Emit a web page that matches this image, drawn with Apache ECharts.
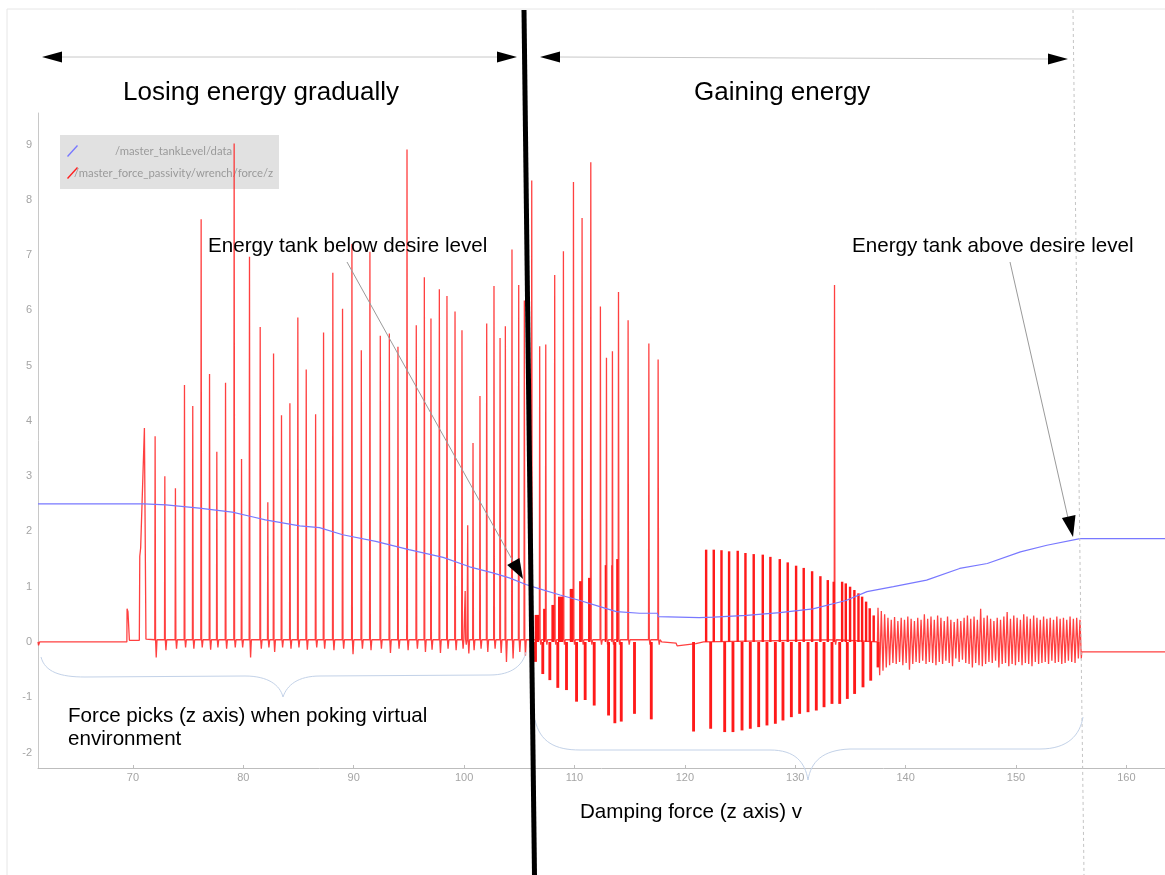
<!DOCTYPE html>
<html>
<head>
<meta charset="utf-8">
<script src="https://cdn.jsdelivr.net/npm/echarts@6/dist/echarts.min.js"></script>
<style>
  html, body { margin: 0; padding: 0; background: #fff; }
  #chart { width: 1165px; height: 875px; }
</style>
</head>
<body>
<div id="chart"></div>
<script>
// series names (legend)
const tankName = '/master_tankLevel/data';
const forceName = '/master_force_passivity/wrench/force/z';

// tank level (blue)
const tankT = [61.4, 71.0, 73.0, 76.0, 79.0, 80.7, 82.0, 85.1, 86.9, 89.0, 92.0, 95.0, 98.1, 100.5, 102.6,
  104.1, 105.6, 106.85, 108.7, 110.5, 112.3, 113.8, 115.9, 117.5, 117.6, 121.3, 122.6, 125.6, 128.6, 131.6,
  134.6, 136.5, 138.9, 141.9, 144.9, 147.4, 150.4, 152.8, 155.8, 157.6, 163.5];
const tankLevel = [2.50, 2.50, 2.48, 2.42, 2.35, 2.27, 2.21, 2.10, 2.07, 1.94, 1.82, 1.67, 1.53, 1.36, 1.25,
  1.16, 1.04, 0.96, 0.85, 0.75, 0.64, 0.55, 0.52, 0.52, 0.46, 0.44, 0.45, 0.48, 0.53, 0.60,
  0.75, 0.91, 1.00, 1.12, 1.33, 1.42, 1.63, 1.75, 1.87, 1.87, 1.87];

// force: start of the record (flat, first small contact, first ramp)
const leadT = [61.40, 61.45, 61.55, 67.80, 67.90, 68.00, 69.45, 69.47, 69.55, 69.62, 69.68, 70.58, 70.62, 70.70, 71.04, 71.18];
const leadZ = [0.00, -0.06, 0.00, 0.00, 0.03, 0.00, 0.00, 0.60, 0.55, 0.57, 0.03, 0.03, 1.55, 1.70, 3.87, 0.05];

// force: single pokes (time, peak, dip right after)
const pokeX = [72.01, 72.89, 73.85, 74.67, 75.42, 76.18, 76.94, 77.60, 78.39, 79.17,
  79.84, 80.56, 81.53, 82.22, 82.74, 83.46, 84.22, 84.94, 85.70, 86.55,
  87.27, 88.11, 88.99, 89.84, 90.69, 91.47, 92.41, 93.23, 94.01, 94.83,
  95.67, 96.40, 97.00, 97.76, 98.45, 99.18, 99.81, 100.10, 100.33, 100.81,
  101.44, 102.05, 102.71, 103.26, 103.74, 104.34, 104.95, 105.46,
  106.13, 106.85, 107.40, 108.21, 109.00, 109.91, 110.69, 111.48, 112.35, 112.90,
  113.44, 113.99, 114.86, 116.74, 117.58, 133.56];
const pokePeak = [3.72, 3.00, 2.78, 4.65, 4.27, 7.65, 4.85, 3.44, 4.69, 9.02,
  3.31, 6.97, 5.70, 2.53, 5.22, 4.10, 4.32, 5.87, 4.93, 4.12,
  5.60, 6.68, 6.03, 7.20, 5.28, 7.06, 5.54, 5.58, 5.34, 8.91,
  5.73, 6.60, 5.85, 6.38, 6.26, 5.98, 5.64, 0.92, 2.11, 3.60,
  4.45, 5.76, 6.44, 5.50, 5.71, 7.10, 6.46, 6.18,
  8.35, 5.35, 5.38, 6.64, 7.07, 8.32, 7.67, 8.68, 6.07, 5.14,
  5.26, 6.33, 5.82, 5.40, 5.11, 6.46];
const pokeDip = [-0.28, -0.15, -0.12, -0.10, -0.12, -0.10, -0.14, -0.10, -0.12, -0.10,
  -0.10, -0.28, -0.12, -0.10, -0.18, -0.10, -0.12, -0.10, -0.14, -0.10,
  -0.12, -0.15, -0.12, -0.22, -0.12, -0.15, -0.12, -0.20, -0.12, -0.15,
  -0.12, -0.18, -0.14, -0.20, -0.12, -0.15, -0.12, -0.05, -0.21, -0.15,
  -0.12, -0.18, -0.12, -0.20, -0.36, -0.30, -0.18, -0.25,
  -0.05, -0.05, -0.05, -0.05, -0.05, -0.05, -0.05, -0.05, -0.05, -0.05,
  -0.05, -0.05, -0.05, -0.05, -0.05, -0.05];

// force: flat stretches between the dense parts
const baseT = [117.90, 119.20, 119.30, 121.00, 121.70, 137.45];
const baseZ = [0.00, -0.02, -0.07, -0.03, 0.00, 0.00];

// force: dense damping blocks after 106 s (start, end, top)
const blockStart = [106.40, 107.16, 107.91, 108.51, 109.57, 110.42, 111.23, 112.74, 113.34, 113.78];
const blockEnd = [106.79, 107.38, 108.19, 108.98, 109.89, 110.67, 111.46, 112.88, 113.42, 113.97];
const blockTop = [0.49, 0.60, 0.67, 0.82, 0.96, 1.10, 1.16, 1.39, 1.39, 1.50];

// force: negative damping bars
const dipX = [106.34, 107.00, 107.64, 108.36, 109.15, 110.06, 110.84, 111.66, 112.96, 113.53,
  114.11, 115.31, 116.83, 120.66, 122.21, 123.48, 124.23, 125.05, 125.80, 126.56,
  127.31, 128.07, 128.76, 129.52, 130.27, 131.03, 131.78, 132.48, 133.20, 133.90,
  134.59, 135.25, 136.01, 136.71, 137.37];
const dipLow = [-0.36, -0.58, -0.69, -0.83, -0.87, -1.08, -1.05, -1.15, -1.33, -1.47,
  -1.44, -1.30, -1.40, -1.62, -1.57, -1.63, -1.63, -1.60, -1.57, -1.54,
  -1.51, -1.48, -1.42, -1.36, -1.30, -1.27, -1.24, -1.18, -1.12, -1.12,
  -1.03, -0.94, -0.82, -0.70, -0.46];

// force: positive damping bars 121-137 s
const barX = [121.82, 122.51, 123.21, 123.90, 124.68, 125.38, 126.13, 126.95, 127.64, 128.49,
  129.21, 129.97, 130.66, 131.42, 132.17, 132.84, 133.38, 134.14, 134.47, 134.86,
  135.25, 135.62, 135.95, 136.31, 136.64, 137.00];
const barTop = [1.67, 1.67, 1.66, 1.64, 1.65, 1.61, 1.59, 1.58, 1.54, 1.50,
  1.44, 1.38, 1.34, 1.28, 1.19, 1.12, 1.09, 1.09, 1.06, 1.00,
  0.94, 0.88, 0.82, 0.73, 0.61, 0.48];

// force: oscillation 137-156 s, then constant
const oscillation = [
  [137.50, 0.62], [137.65, -0.60], [137.80, 0.56], [137.95, -0.52], [138.10, 0.50], [138.25, -0.46],
  [138.40, 0.44], [138.55, -0.42], [138.70, 0.40], [138.85, -0.38], [139.00, 0.45], [139.15, -0.40],
  [139.30, 0.38], [139.45, -0.36], [139.60, 0.44], [139.75, -0.42], [139.90, 0.40], [140.05, -0.38],
  [140.20, 0.46], [140.35, -0.50], [140.50, 0.42], [140.65, -0.40], [140.80, 0.38], [140.95, -0.36],
  [141.10, 0.44], [141.25, -0.38], [141.40, 0.40], [141.55, -0.34], [141.70, 0.50], [141.85, -0.40],
  [142.00, 0.42], [142.15, -0.36], [142.30, 0.46], [142.45, -0.38], [142.60, 0.40], [142.75, -0.42],
  [142.90, 0.48], [143.05, -0.36], [143.20, 0.44], [143.35, -0.40], [143.50, 0.38], [143.65, -0.34],
  [143.80, 0.46], [143.95, -0.38], [144.10, 0.40], [144.25, -0.44], [144.40, 0.36], [144.55, -0.30],
  [144.70, 0.42], [144.85, -0.36], [145.00, 0.38], [145.15, -0.32], [145.30, 0.44], [145.45, -0.38],
  [145.60, 0.48], [145.75, -0.40], [145.90, 0.42], [146.05, -0.46], [146.20, 0.46], [146.35, -0.38],
  [146.50, 0.40], [146.65, -0.42], [146.80, 0.60], [146.95, -0.44], [147.10, 0.44], [147.25, -0.40],
  [147.40, 0.48], [147.55, -0.36], [147.70, 0.42], [147.85, -0.38], [148.00, 0.38], [148.15, -0.34],
  [148.30, 0.44], [148.45, -0.46], [148.60, 0.40], [148.75, -0.40], [148.90, 0.46], [149.05, -0.38],
  [149.20, 0.54], [149.35, -0.44], [149.50, 0.42], [149.65, -0.40], [149.80, 0.48], [149.95, -0.42],
  [150.10, 0.44], [150.25, -0.36], [150.40, 0.40], [150.55, -0.42], [150.70, 0.50], [150.85, -0.38],
  [151.00, 0.46], [151.15, -0.40], [151.30, 0.42], [151.45, -0.44], [151.60, 0.48], [151.75, -0.36],
  [151.90, 0.44], [152.05, -0.40], [152.20, 0.40], [152.35, -0.38], [152.50, 0.46], [152.65, -0.36],
  [152.80, 0.42], [152.95, -0.40], [153.10, 0.44], [153.25, -0.34], [153.40, 0.40], [153.55, -0.38],
  [153.70, 0.46], [153.85, -0.36], [154.00, 0.42], [154.15, -0.40], [154.30, 0.44], [154.45, -0.38],
  [154.60, 0.40], [154.75, -0.34], [154.90, 0.46], [155.05, -0.36], [155.20, 0.42], [155.35, -0.38],
  [155.50, 0.44], [155.65, -0.30], [155.80, 0.40], [155.92, -0.30], [155.95, -0.18], [163.50, -0.18]
];

// build the force line from the read values
var forceLine = [];
leadT.forEach(function (t, i) { forceLine.push([t, leadZ[i]]); });
pokeX.forEach(function (t, i) {
  forceLine.push([t - 0.03, 0.04], [t, pokePeak[i]], [t + 0.04, 0.05], [t + 0.1, pokeDip[i]], [t + 0.17, 0.04]);
});
baseT.forEach(function (t, i) { forceLine.push([t, baseZ[i]]); });
oscillation.forEach(function (p) { forceLine.push(p); });
forceLine.sort(function (a, b) { return a[0] - b[0]; });

// rectangles for the dense parts: [start, end, value]
var DIP_W = 0.26;
var BAR_W = 0.22;
var forceBlocks = [];
blockStart.forEach(function (t, i) { forceBlocks.push([t, blockEnd[i], blockTop[i]]); });
dipX.forEach(function (t, i) { forceBlocks.push([t, t + DIP_W, dipLow[i]]); });
barX.forEach(function (t, i) { forceBlocks.push([t, t + BAR_W, barTop[i]]); });

var tankLine = tankT.map(function (t, i) { return [t, tankLevel[i]]; });

function renderBlock(params, api) {
  var a = api.coord([api.value(0), 0]);
  var b = api.coord([api.value(1), api.value(2)]);
  return {
    type: 'rect',
    shape: {
      x: a[0],
      y: Math.min(a[1], b[1]),
      width: Math.max(b[0] - a[0], 1.2),
      height: Math.abs(b[1] - a[1])
    },
    style: { fill: '#ff1a1a' }
  };
}

// curly brace made of bezier pieces and straight runs
function brace(pieces) {
  return pieces.map(function (p) {
    if (p.length === 4) {
      return { type: 'line', z: 50, shape: { x1: p[0], y1: p[1], x2: p[2], y2: p[3] }, style: { stroke: '#c3d2e8', lineWidth: 1 } };
    }
    return {
      type: 'bezierCurve', z: 50,
      shape: { x1: p[0], y1: p[1], cpx1: p[2], cpy1: p[3], cpx2: p[4], cpy2: p[5], x2: p[6], y2: p[7] },
      style: { stroke: '#c3d2e8', lineWidth: 1, fill: null }
    };
  });
}

var textFont = '"Liberation Sans", Arial, sans-serif';
var red = '#ff1f1f';
var blue = '#7878ff';

var myChart = echarts.init(document.getElementById('chart'));

var elements = [
  // slide frame
  { type: 'line', z: 50, shape: { x1: 7, y1: 9, x2: 1165, y2: 9 }, style: { stroke: '#e6e6e6', lineWidth: 1 } },
  { type: 'line', z: 50, shape: { x1: 7, y1: 9, x2: 7, y2: 875 }, style: { stroke: '#e6e6e6', lineWidth: 1 } },
  // double arrows
  { type: 'line', z: 50, shape: { x1: 60, y1: 57, x2: 500, y2: 57 }, style: { stroke: '#c8c8c8', lineWidth: 1 } },
  { type: 'polygon', z: 50, shape: { points: [[42, 57], [62, 51.5], [62, 62.5]] }, style: { fill: '#000' } },
  { type: 'polygon', z: 50, shape: { points: [[517, 57], [497, 51.5], [497, 62.5]] }, style: { fill: '#000' } },
  { type: 'line', z: 50, shape: { x1: 558, y1: 57, x2: 1050, y2: 59 }, style: { stroke: '#c8c8c8', lineWidth: 1 } },
  { type: 'polygon', z: 50, shape: { points: [[540, 57], [560, 51.5], [560, 62.5]] }, style: { fill: '#000' } },
  { type: 'polygon', z: 50, shape: { points: [[1068, 59], [1048, 53.5], [1048, 64.5]] }, style: { fill: '#000' } },
  // titles
  { type: 'text', z: 50, x: 123, y: 93, style: { text: 'Losing energy gradually', font: '26px ' + textFont, fill: '#000', verticalAlign: 'middle' } },
  { type: 'text', z: 50, x: 694, y: 93, style: { text: 'Gaining energy', font: '26px ' + textFont, fill: '#000', verticalAlign: 'middle' } },
  // dotted end marker
  { type: 'line', z: 50, shape: { x1: 1073, y1: 10, x2: 1084, y2: 875 }, style: { stroke: '#c4c4c4', lineWidth: 1, lineDash: [3, 3] } },
  // separator
  { type: 'line', z: 60, shape: { x1: 524, y1: 10, x2: 534.5, y2: 875 }, style: { stroke: '#000', lineWidth: 5 } },
  // tank below level
  { type: 'text', z: 50, x: 208, y: 246, style: { text: 'Energy tank below desire level', font: '20.6px ' + textFont, fill: '#000', verticalAlign: 'middle' } },
  { type: 'line', z: 50, shape: { x1: 347, y1: 262, x2: 514, y2: 563 }, style: { stroke: '#9a9a9a', lineWidth: 1 } },
  { type: 'polygon', z: 50, shape: { points: [[523, 579], [507.2, 564.9], [519.4, 558.1]] }, style: { fill: '#000' } },
  // tank above level
  { type: 'text', z: 50, x: 852, y: 246, style: { text: 'Energy tank above desire level', font: '20.6px ' + textFont, fill: '#000', verticalAlign: 'middle' } },
  { type: 'line', z: 50, shape: { x1: 1010, y1: 262, x2: 1068, y2: 518 }, style: { stroke: '#9a9a9a', lineWidth: 1 } },
  { type: 'polygon', z: 50, shape: { points: [[1073, 537], [1061.9, 518], [1075.5, 515]] }, style: { fill: '#000' } },
  // bottom notes
  { type: 'text', z: 50, x: 68, y: 716, style: { text: 'Force picks (z axis) when poking virtual', font: '20.6px ' + textFont, fill: '#000', verticalAlign: 'middle' } },
  { type: 'text', z: 50, x: 68, y: 739, style: { text: 'environment', font: '20.6px ' + textFont, fill: '#000', verticalAlign: 'middle' } },
  { type: 'text', z: 50, x: 580, y: 812, style: { text: 'Damping force (z axis) v', font: '20.6px ' + textFont, fill: '#000', verticalAlign: 'middle' } }
].concat(
  brace([
    [41, 657, 45, 672, 60, 677, 85, 677],
    [85, 677, 245, 676],
    [245, 676, 268, 676, 280, 685, 283, 697],
    [283, 697, 287, 685, 298, 676, 320, 676],
    [320, 676, 490, 675],
    [490, 675, 512, 675, 523, 665, 526, 652]
  ]),
  brace([
    [535, 720, 540, 742, 555, 750, 580, 750],
    [580, 750, 770, 750],
    [770, 750, 795, 750, 805, 762, 808, 780],
    [808, 780, 811, 762, 822, 750, 850, 749],
    [850, 749, 1040, 749],
    [1040, 749, 1068, 749, 1080, 735, 1083, 717]
  ])
);

var option = {
  animation: false,
  backgroundColor: '#fff',
  grid: { left: 38, right: 0, top: 113, bottom: 107 },
  legend: {
    data: [tankName, forceName],
    orient: 'vertical',
    left: 60,
    top: 135,
    z: 1,
    padding: [10, 6, 10, 7],
    itemGap: 10,
    itemWidth: 12,
    itemHeight: 12,
    backgroundColor: '#e1e1e1',
    icon: 'path://M0,11 L10,0 L11,1 L1,12 Z',
    formatter: function (name) { return '{t|' + name + '}'; },
    textStyle: {
      color: '#9a9a9a',
      fontFamily: 'Lato, sans-serif',
      fontSize: 11.3,
      rich: { t: { width: 180, align: 'center', color: '#9a9a9a', fontSize: 11.3, fontFamily: 'Lato, sans-serif' } }
    }
  },
  xAxis: {
    type: 'value',
    min: 61.4,
    max: 163.5,
    splitNumber: 10,
    minInterval: 10,
    maxInterval: 10,
    splitLine: { show: false },
    axisLine: { onZero: false, lineStyle: { color: '#bdbdbd' } },
    axisTick: { inside: true, length: 3, lineStyle: { color: '#bdbdbd' } },
    axisLabel: { color: '#a5a5a5', fontSize: 11, margin: 4, showMinLabel: false, showMaxLabel: false }
  },
  yAxis: {
    type: 'value',
    min: -2.28,
    max: 9.57,
    splitNumber: 12,
    minInterval: 1,
    maxInterval: 1,
    splitLine: { show: false },
    axisLine: { show: true, onZero: false, lineStyle: { color: '#c8c8c8' } },
    axisTick: { show: false },
    axisLabel: { color: '#a5a5a5', fontSize: 11, margin: 6, showMinLabel: false, showMaxLabel: false }
  },
  series: [
    {
      name: forceName,
      type: 'line',
      data: forceLine,
      showSymbol: false,
      symbol: 'none',
      itemStyle: { color: red },
      lineStyle: { color: red, width: 1.3, opacity: 0.85 },
      z: 2
    },
    {
      name: forceName,
      type: 'custom',
      data: forceBlocks,
      encode: { x: [0, 1], y: 2 },
      renderItem: renderBlock,
      itemStyle: { color: red },
      z: 2
    },
    {
      name: tankName,
      type: 'line',
      data: tankLine,
      showSymbol: false,
      symbol: 'none',
      itemStyle: { color: blue },
      lineStyle: { color: blue, width: 1.2 },
      z: 3
    }
  ],
  graphic: { elements: elements }
};

myChart.setOption(option);
</script>
</body>
</html>
